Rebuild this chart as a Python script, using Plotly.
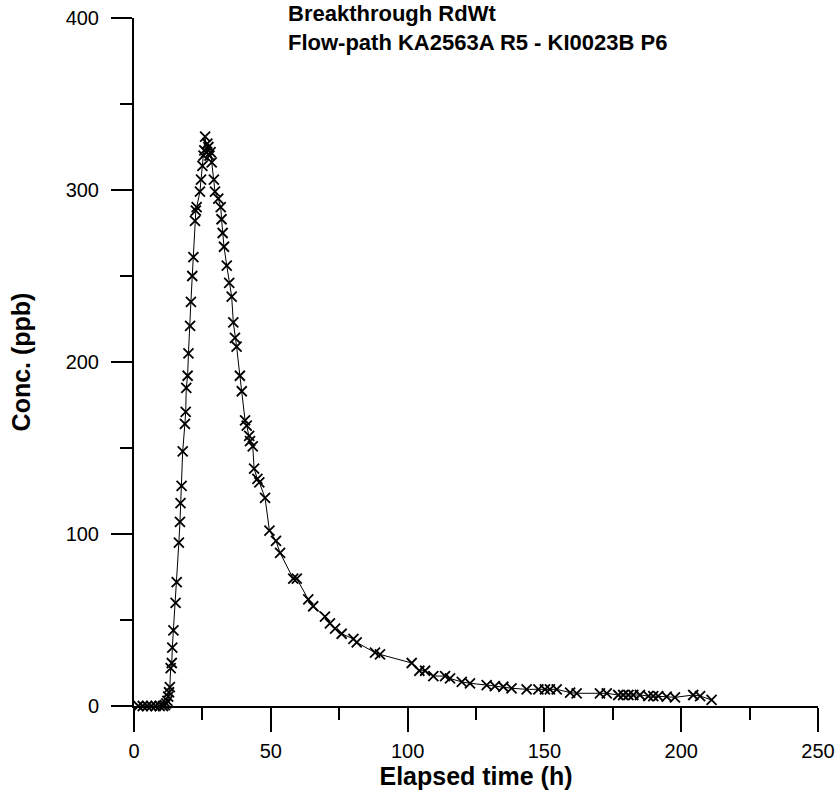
import plotly.graph_objects as go

time_h = [1.6, 3.2, 4.8, 6.3, 7.9, 9.4, 10.6, 11.3, 11.8, 12.2, 12.5, 12.8, 13.1, 13.4, 13.8,
          14.0, 14.4, 15.2, 15.6, 16.4, 16.8, 17.0, 17.4, 17.8, 18.6, 18.9, 19.1, 19.6, 19.9,
          20.5, 20.8, 21.3, 21.7, 22.3, 22.6, 22.9, 24.1, 24.5, 25.0, 25.4, 25.7, 26.0, 26.4,
          26.8, 27.2, 27.6, 28.0, 28.4, 29.2, 29.6, 30.8, 31.7, 32.0, 32.4, 32.9, 33.9, 34.8,
          35.7, 36.3, 36.9, 37.5, 38.7, 39.4, 40.6, 41.2, 42.1, 42.4, 43.4, 43.9, 45.1, 45.8,
          47.9, 49.5, 51.9, 53.4, 58.2, 59.5, 63.7, 65.5, 69.8, 71.6, 73.5, 75.9, 80.2, 81.4,
          88.1, 89.9, 101.5, 104.3, 106.4, 109.4, 113.7, 115.5, 119.8, 122.8, 128.9, 131.9,
          135.0, 138.0, 143.5, 147.8, 150.2, 152.0, 154.5, 159.4, 161.8, 170.3, 172.8, 177.0,
          178.8, 180.7, 182.5, 184.9, 188.0, 189.8, 191.6, 194.7, 197.7, 204.4, 206.9, 211.1]

conc_ppb = [0, 0, 0, 0, 0, 0, 0, 0.5, 1.5, 3, 5.5, 8, 11, 22, 25,
            34, 44, 60, 72, 95, 107, 118, 128, 148, 164, 171, 185, 192, 205,
            221, 235, 250, 261, 282, 288, 290, 299, 306, 314, 320, 323, 331, 322,
            327, 325, 320, 322, 316, 306, 299, 295, 290, 283, 275, 267, 256, 246,
            238, 223, 214, 209, 192, 183, 166, 163, 157, 154, 151, 138, 132, 130,
            121, 102, 96, 89, 74, 74, 62, 58, 52, 48, 45, 42, 39, 37,
            31, 30, 25, 20.5, 20.5, 17.4, 17.4, 16, 14, 13.2, 12.2, 11.6,
            11.2, 10.3, 9.7, 9.7, 9.7, 9.7, 9.7, 7.8, 7.4, 7.4, 7.4, 6.4,
            6.4, 6.4, 6.4, 6.4, 5.8, 5.8, 5.8, 5.4, 5.0, 6.4, 5.8, 3.5]

title_lines = ["Breakthrough RdWt", "Flow-path KA2563A R5 - KI0023B P6"]
x_title = "Elapsed time (h)"
y_title = "Conc. (ppb)"

FONT = "Liberation Sans, Arial, sans-serif"

fig = go.Figure()
fig.add_trace(go.Scatter(
    x=time_h, y=conc_ppb, mode="lines+markers",
    line=dict(color="black", width=1),
    marker=dict(symbol="x-thin-open", size=10, line=dict(color="black", width=1.8)),
    showlegend=False, cliponaxis=False,
))

fig.update_layout(
    width=838, height=792,
    paper_bgcolor="white", plot_bgcolor="white",
    margin=dict(l=134, r=20, t=18, b=86),
    font=dict(family=FONT, color="black", size=20),
    xaxis=dict(
        range=[0, 250], dtick=50, tick0=0, automargin=False,
        showgrid=False, zeroline=False,
        showline=True, linecolor="black", linewidth=2,
        ticks="outside", ticklen=24, tickwidth=2, tickcolor="black",
        ticklabelstandoff=2, ticklabeloverflow="allow",
        minor=dict(dtick=25, ticks="outside", ticklen=12, tickwidth=2, tickcolor="black", showgrid=False),
        tickfont=dict(size=20),
        title=dict(text="<b>" + x_title + "</b>", font=dict(size=25), standoff=4),
    ),
    yaxis=dict(
        range=[0, 400], dtick=100, tick0=0, automargin=False,
        showgrid=False, zeroline=False,
        showline=True, linecolor="black", linewidth=2,
        ticks="outside", ticklen=21, tickwidth=2, tickcolor="black",
        ticklabelstandoff=8, ticklabeloverflow="allow",
        minor=dict(dtick=50, ticks="outside", ticklen=12, tickwidth=2, tickcolor="black", showgrid=False),
        tickfont=dict(size=20),
        title=dict(text="<b>" + y_title + "</b>", font=dict(size=25), standoff=28),
    ),
    annotations=[dict(
        xref="paper", yref="paper", x=(286 - 134) / 684, y=(706 + 1) / 688,
        xanchor="left", yanchor="top", align="left", showarrow=False,
        text="<b>" + title_lines[0] + "<br>" + title_lines[1] + "</b>",
        font=dict(size=22, family=FONT),
    )],
)

fig.write_html("out.html", config={"displayModeBar": False},
               post_script="document.body.style.margin='0';")
